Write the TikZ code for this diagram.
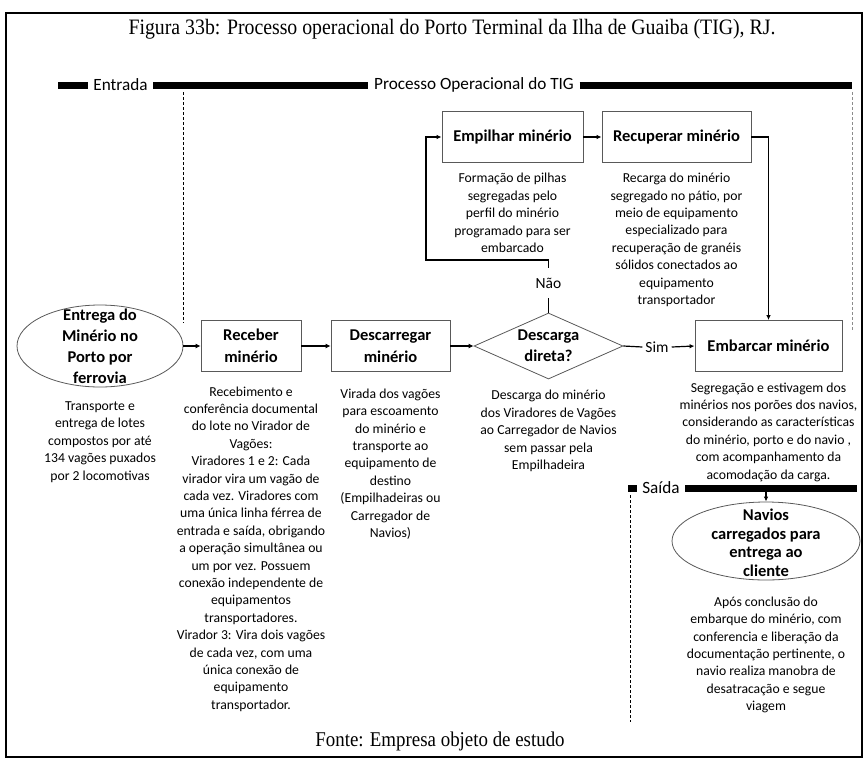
\documentclass[tikz,border=0pt]{standalone}
\usepackage{fontspec}
\setmainfont{Carlito}
\newfontfamily\serifT{Liberation Serif}
\usetikzlibrary{arrows.meta,shapes.geometric}
\begin{document}
\begin{tikzpicture}[x=1pt,y=-1pt,
  box/.style={draw=black!65, line width=0.8pt, minimum height=51pt, inner sep=0pt,
    font=\bfseries\fontsize{16.5}{21.5}\selectfont, align=center},
  btxt/.style={font=\bfseries\fontsize{16.5}{21}\selectfont, align=center, inner sep=0pt},
  desc/.style={font=\fontsize{13.7}{17.4}\selectfont, align=center, inner sep=0pt},
  hdr/.style={font=\fontsize{17.2}{20}\selectfont, inner sep=5.5pt},
  lbl/.style={font=\fontsize{15.5}{18}\selectfont, inner sep=3pt},
  bar/.style={line width=7pt},
  shp/.style={draw=black!65, line width=0.8pt, inner sep=0pt},
  thinarrow/.style={line width=1.2pt, -{Latex[length=5pt,width=4.5pt]}},
  thickarrow/.style={line width=2.2pt, -{Latex[length=5pt,width=5pt]}},
  dsh/.style={line width=0.8pt, dash pattern=on 3pt off 2pt},
  ]
\useasboundingbox (0,0) rectangle (867,763);
\draw[line width=1.3pt] (6,13) rectangle (862,757);

% title and source
\node[font=\serifT\fontsize{22}{24}\selectfont, xscale=0.9] (title) at (452,29)
  {Figura 33b: Processo operacional do Porto Terminal da Ilha de Guaiba (TIG), RJ.};
\node[font=\serifT\fontsize{21}{24}\selectfont, xscale=0.9] (fonte) at (440,741)
  {Fonte: Empresa objeto de estudo};

% header bars
\coordinate (hy) at (0,85);
\node[hdr] (entrada) at (120.5,85) {Entrada};
\node[hdr] (proc) at (474,85) {Processo Operacional do TIG};
\draw[bar] (58,85) -- (entrada.west |- hy);
\draw[bar] (entrada.east |- hy) -- (proc.west |- hy);
\draw[bar] (proc.east |- hy) -- (852,85);

\coordinate (sy) at (0,488);
\node[hdr] (saida) at (661,488) {Saída};
\draw[bar] (628,488) -- (saida.west |- sy);
\draw[bar] (saida.east |- sy) -- (857,488);

% dashed separators
\draw[dsh] (183,92) -- (183,323);
\draw[dsh, black!45] (852,92) -- (852,330);
\draw[dsh] (630,495) -- (630,722);

% entry ellipse
\node[shp, ellipse, minimum width=166pt, minimum height=82pt] (entrega) at (100,346) {};
\node[btxt] (entregatxt) at (100,346) {Entrega do\\Minério no\\Porto por\\ferrovia};
\node[desc] (entdesc) at (100,442) {Transporte e\\entrega de lotes\\compostos por até\\134 vagões puxados\\por 2 locomotivas};

% main row
\node[box, minimum width=100pt] (receber) at (251,346) {Receber\\minério};
\node[desc] (recdesc) at (251,549) {Recebimento e\\conferência documental\\do lote no Virador de\\Vagões:\\Viradores 1 e 2: Cada\\virador vira um vagão de\\cada vez. Viradores com\\uma única linha férrea de\\entrada e saída, obrigando\\a operação simultânea ou\\um por vez. Possuem\\conexão independente de\\equipamentos\\transportadores.\\Virador 3: Vira dois vagões\\de cada vez, com uma\\única conexão de\\equipamento\\transportador.};

\node[box, minimum width=119pt] (descar) at (390.5,346) {Descarregar\\minério};
\node[desc] (descdesc) at (390.5,464) {Virada dos vagões\\para escoamento\\do minério e\\transporte ao\\equipamento de\\destino\\(Empilhadeiras ou\\Carregador de\\Navios)};

\node[shp, diamond, minimum width=149pt, minimum height=66pt] (dia) at (548.5,346) {};
\node[btxt] (diatxt) at (548.5,346) {Descarga\\direta?};
\node[desc] (diadesc) at (548.5,431) {Descarga do minério\\dos Viradores de Vagões\\ao Carregador de Navios\\sem passar pela\\Empilhadeira};

\node[lbl, minimum height=30pt, inner sep=0pt] (nao) at (548.5,283) {Não};
\node[lbl] (sim) at (657,347) {Sim};

% upper row
\node[box, minimum width=141pt] (emp) at (512.5,137) {Empilhar minério};
\node[desc] (empdesc) at (512.5,213) {Formação de pilhas\\segregadas pelo\\perfil do minério\\programado para ser\\embarcado};
\node[box, minimum width=149pt] (rec) at (676.5,137) {Recuperar minério};
\node[desc] (recupdesc) at (676.5,240) {Recarga do minério\\segregado no pátio, por\\meio de equipamento\\especializado para\\recuperação de granéis\\sólidos conectados ao\\equipamento\\transportador};

% ship loading
\node[box, minimum width=147pt] (emb) at (768.5,346) {Embarcar minério};
\node[desc] (embdesc) at (768.5,432) {Segregação e estivagem dos\\minérios nos porões dos navios,\\considerando as características\\do minério, porto e do navio ,\\com acompanhamento da\\acomodação da carga.};

\node[shp, ellipse, minimum width=188pt, minimum height=78pt] (nav) at (766,541) {};
\node[btxt, font=\bfseries\fontsize{16.5}{18.5}\selectfont] (navtxt) at (766,543) {Navios\\carregados para\\entrega ao\\cliente};
\node[desc] (navdesc) at (766,655) {Após conclusão do\\embarque do minério, com\\conferencia e liberação da\\documentação pertinente, o\\navio realiza manobra de\\desatracação e segue\\viagem};

% connectors
\draw[thickarrow] (entrega.east) -- (receber.west);
\draw[thickarrow] (receber) -- (descar);
\draw[thickarrow] (descar) -- (dia.west);
\draw[line width=1.2pt] (dia.north) -- (nao.south);
\coordinate (fb) at (426,260);
\draw[thinarrow] (nao.north) |- (fb) |- (emp.west);
\draw[thinarrow] (emp) -- (rec);
\draw[thinarrow] (rec.east) -| (emb.north);
\draw[line width=1.2pt] (dia.east) -- (sim.west);
\draw[thinarrow] (sim.east) -- (emb.west);
\coordinate (sb) at (766,491);
\draw[thinarrow] (sb) -- (nav.north);
\end{tikzpicture}
\end{document}
